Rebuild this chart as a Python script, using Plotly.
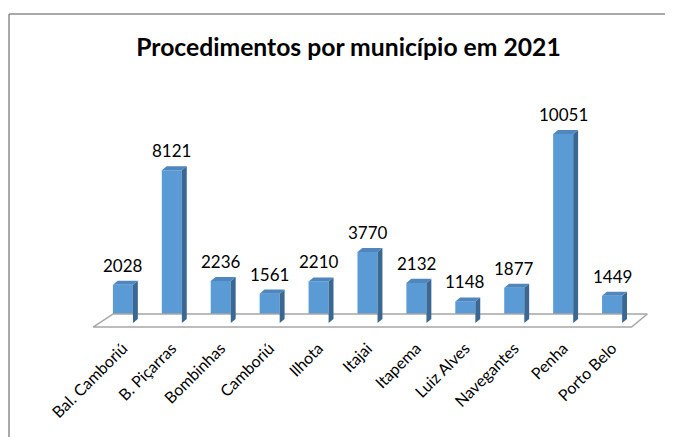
import plotly.graph_objects as go

# data
municipios = ["Bal. Camboriú", "B. Piçarras", "Bombinhas", "Camboriú", "Ilhota", "Itajai",
              "Itapema", "Luiz Alves", "Navegantes", "Penha", "Porto Belo"]
procedimentos = [2028, 8121, 2236, 1561, 2210, 3770, 2132, 1148, 1877, 10051, 1449]

FRONT = "#5b9bd5"
SIDE = "#3b6893"
TOP = "#4f86bd"
FONT = "Lato"

half_w = 0.205   # half width of the front face (category units)
dx = 0.10        # depth offset in x
dy = 215         # depth offset in y (value units)

xs = list(range(len(municipios)))

fig = go.Figure()

# floor of the 3D plot
n = len(municipios)
fig.add_trace(go.Scatter(
    x=[-0.61, n - 0.6, n - 0.28, -0.2, -0.61],
    y=[-215, -215, 480, 480, -215],
    mode="lines", fill="toself", fillcolor="white",
    line=dict(color="#a6a6a6", width=1.5),
    hoverinfo="skip", showlegend=False,
))

# front faces
fig.add_trace(go.Bar(
    x=xs, y=procedimentos, width=2 * half_w,
    marker=dict(color=FRONT, line=dict(width=0)),
    showlegend=False,
))

# side and top faces built from the values
side_x, side_y, top_x, top_y = [], [], [], []
for i, v in zip(xs, procedimentos):
    r = i + half_w
    l = i - half_w
    side_x += [r, r + dx, r + dx, r, r, None]
    side_y += [0, dy, v + dy, v, 0, None]
    top_x += [l, r, r + dx, l + dx, l, None]
    top_y += [v, v, v + dy, v + dy, v, None]

fig.add_trace(go.Scatter(x=side_x, y=side_y, mode="lines", fill="toself",
                         fillcolor=SIDE, line=dict(width=0, color=SIDE),
                         hoverinfo="skip", showlegend=False))
fig.add_trace(go.Scatter(x=top_x, y=top_y, mode="lines", fill="toself",
                         fillcolor=TOP, line=dict(width=0, color=TOP),
                         hoverinfo="skip", showlegend=False))

# value labels
for i, v in zip(xs, procedimentos):
    fig.add_annotation(x=i, y=v + dy, text=str(v), showarrow=False,
                       yanchor="bottom", yshift=3,
                       font=dict(family=FONT, size=17, color="#000000"))

# chart border (only top and left visible in the frame)
fig.add_shape(type="line", xref="paper", yref="paper",
              x0=-0.1107, y0=1.249, x1=1.2, y1=1.249,
              line=dict(color="#8c8c8c", width=1.5))
fig.add_shape(type="line", xref="paper", yref="paper",
              x0=-0.1107, y0=1.249, x1=-0.1107, y1=-0.5,
              line=dict(color="#8c8c8c", width=1.5))

# the page body adds an 8px margin, so the figure is sized/shifted to compensate
fig.update_layout(
    width=665, height=429,
    margin=dict(l=66, r=12, t=70, b=102, autoexpand=False),
    paper_bgcolor="white", plot_bgcolor="white",
    title=dict(text="<b>Procedimentos por município em 2021</b>",
               x=0.512, xanchor="center", y=1 - 39 / 429, yanchor="middle",
               font=dict(family=FONT, size=24.7, color="#000000")),
    xaxis=dict(range=[-1, 11], tickmode="array", tickvals=xs, ticktext=municipios,
               tickangle=-45, showgrid=False, zeroline=False, showline=False,
               automargin=False, ticks="",
               tickfont=dict(family=FONT, size=16, color="#000000")),
    yaxis=dict(range=[-638, 13030], visible=False, automargin=False),
)

fig.write_html("out.html")
